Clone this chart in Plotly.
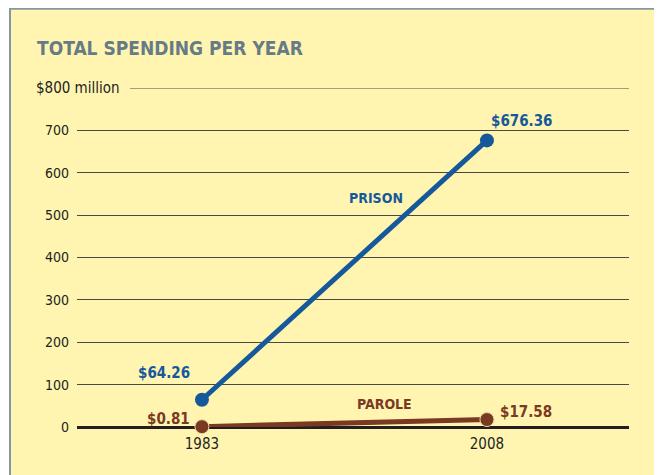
import plotly.graph_objects as go

years = [1983, 2008]
prison = [64.26, 676.36]
parole = [0.81, 17.58]
y_ticks = [0, 100, 200, 300, 400, 500, 600, 700]
y_tick_labels = ["0", "100", "200", "300", "400", "500", "600", "700"]
top_tick = 800
top_tick_label = "$800 million"
title_text = "TOTAL SPENDING PER YEAR"

FONT = "Liberation Sans Narrow, DejaVu Sans Condensed, Arial Narrow, sans-serif"
BLUE = "#16599B"
BROWN = "#7A3A22"
BG = "#FFF5B1"

fig = go.Figure()
fig.add_trace(go.Scatter(x=years, y=prison, mode="lines+markers",
                         line=dict(color=BLUE, width=5),
                         marker=dict(color=BLUE, size=14),
                         cliponaxis=False, showlegend=False))
fig.add_trace(go.Scatter(x=years, y=parole, mode="lines+markers",
                         line=dict(color=BROWN, width=5),
                         marker=dict(color=BROWN, size=14, line=dict(color="#E8D9A0", width=1)),
                         cliponaxis=False, showlegend=False))

OFF = 8  # page body margin
W, H = 662 - OFF, 475 - OFF
L, R, T, B = 77 - OFF, 33, 88 - OFF, 48
pw, ph = W - L - R, H - T - B

def px_x(p):
    return (p - OFF - L) / pw

def px_y(p):
    return (H - B - (p - OFF)) / ph

shapes = [
    dict(type="rect", xref="paper", yref="paper", layer="below",
         x0=px_x(10), x1=px_x(655), y0=px_y(490), y1=px_y(8.7),
         fillcolor=BG, line=dict(color="#8797A2", width=2)),
    dict(type="line", xref="paper", yref="y", x0=px_x(130), x1=1,
         y0=top_tick, y1=top_tick, line=dict(color="#4A4A44", width=1)),
]

ann = []
ann.append(dict(xref="paper", yref="paper", x=px_x(35), y=px_y(48), xanchor="left",
                yanchor="middle", text="<b>" + title_text + "</b>", showarrow=False,
                font=dict(family=FONT, size=19, color="#667B86")))
ann.append(dict(xref="paper", yref="y", x=px_x(34), y=top_tick, xanchor="left",
                yanchor="middle", text=top_tick_label, showarrow=False,
                font=dict(family=FONT, size=15, color="#231F20")))
# value labels
ann.append(dict(x=years[0], y=prison[0], text="<b>$%.2f</b>" % prison[0], showarrow=False,
                xanchor="right", yanchor="middle", xshift=-10, yshift=27,
                font=dict(family=FONT, size=15, color=BLUE)))
ann.append(dict(x=years[1], y=prison[1], text="<b>$%.2f</b>" % prison[1], showarrow=False,
                xanchor="left", yanchor="middle", xshift=2, yshift=19,
                font=dict(family=FONT, size=15, color=BLUE)))
ann.append(dict(x=years[0], y=parole[0], text="<b>$%.2f</b>" % parole[0], showarrow=False,
                xanchor="right", yanchor="middle", xshift=-10, yshift=8,
                font=dict(family=FONT, size=15, color=BROWN)))
ann.append(dict(x=years[1], y=parole[1], text="<b>$%.2f</b>" % parole[1], showarrow=False,
                xanchor="left", yanchor="middle", xshift=11, yshift=8,
                font=dict(family=FONT, size=15, color=BROWN)))
ann.append(dict(x=1998.3, y=540, text="<b>PRISON</b>", showarrow=False,
                xanchor="center", yanchor="middle",
                font=dict(family=FONT, size=14, color=BLUE)))
ann.append(dict(x=1999.0, y=54, text="<b>PAROLE</b>", showarrow=False,
                xanchor="center", yanchor="middle",
                font=dict(family=FONT, size=14, color=BROWN)))

fig.update_layout(
    width=W, height=H,
    margin=dict(l=L, r=R, t=T, b=B),
    paper_bgcolor="white", plot_bgcolor="rgba(0,0,0,0)",
    shapes=shapes, annotations=ann,
    font=dict(family=FONT, size=14, color="#231F20"),
    xaxis=dict(range=[1972.04, 2020.46], tickvals=years, ticktext=[str(y) for y in years],
               showgrid=False, zeroline=False, showline=False, ticks="",
               ticklabelstandoff=6,
               tickfont=dict(family=FONT, size=15, color="#231F20"), fixedrange=True),
    yaxis=dict(range=[0, 800], tickvals=y_ticks, ticktext=y_tick_labels,
               showgrid=True, gridcolor="#4A4A44", gridwidth=1,
               zeroline=True, zerolinecolor="#231F20", zerolinewidth=3,
               showline=False, ticks="", ticklabelstandoff=7,
               tickfont=dict(family=FONT, size=14, color="#231F20"), fixedrange=True),
)

fig.write_html("out.html")
